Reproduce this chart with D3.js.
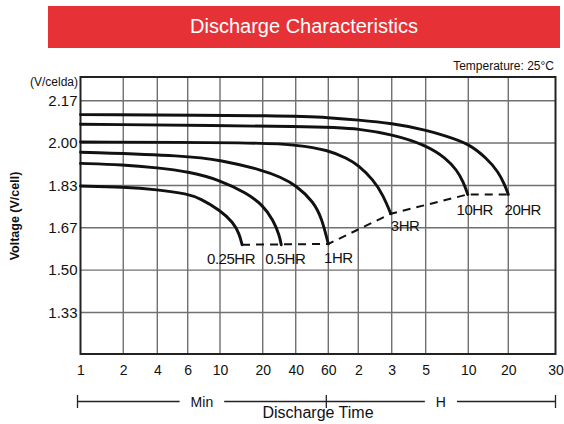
<!DOCTYPE html>
<html>
<head>
<meta charset="utf-8">
<script src="https://cdn.jsdelivr.net/npm/d3@7"></script>
<style>
  body { margin: 0; background: #fff; }
  text { font-family: "Liberation Sans", Arial, sans-serif; }
</style>
</head>
<body>
<script>
// Data (x = minutes, y = volts per cell)
var xTickMinutes = [1, 2, 4, 6, 10, 20, 40, 60, 120, 180, 300, 600, 1200, 1800];
var xTickLabels = ["1", "2", "4", "6", "10", "20", "40", "60", "2", "3", "5", "10", "20", "30"];
var yTickValues = [2.1667, 2.0, 1.8333, 1.6667, 1.5, 1.3333];
var yTickLabels = ["2.17", "2.00", "1.83", "1.67", "1.50", "1.33"];

var rateNames = ["0.25HR", "0.5HR", "1HR", "3HR", "10HR", "20HR"];
var curve025 = [[1, 1.831], [2, 1.827], [4, 1.817], [6, 1.80], [7.3, 1.782], [10, 1.736], [12.4, 1.688], [13.7, 1.642], [14.3, 1.60]];
var curve05 = [[1, 1.92], [2, 1.915], [4, 1.903], [6, 1.888], [10, 1.855], [15.5, 1.802], [20, 1.756], [25, 1.697], [28.5, 1.635], [29.5, 1.60]];
var curve1 = [[1, 1.964], [6, 1.95], [10, 1.933], [20, 1.894], [29, 1.866], [40, 1.835], [50, 1.769], [55.3, 1.704], [60, 1.603]];
var curve3 = [[1, 2.004], [20, 2.002], [40, 1.993], [60, 1.973], [92, 1.94], [120, 1.914], [144, 1.855], [162, 1.796], [178, 1.722]];
var curve10 = [[1, 2.074], [60, 2.065], [120, 2.056], [180, 2.035], [300, 1.993], [420, 1.94], [497, 1.894], [553, 1.848], [595, 1.798]];
var curve20 = [[1, 2.112], [40, 2.108], [60, 2.10], [120, 2.091], [180, 2.078], [300, 2.052], [420, 2.027], [600, 1.999], [826, 1.94], [1010, 1.887], [1130, 1.835], [1200, 1.798]];
var cutoffLine = [[14.3, 1.60], [60, 1.603], [178, 1.722], [595, 1.798], [1200, 1.798]];

var curves = [curve025, curve05, curve1, curve3, curve10, curve20];

// Settings
var w = 564;
var h = 424;
var pL = 80.5, pR = 555.5, pT = 77, pB = 354;

// the paper's hand drawn log axis: where each tick sits across the plot
var xStops = [0, 0.090, 0.1617, 0.2257, 0.2937, 0.3836, 0.4531, 0.5217, 0.5848, 0.6552, 0.7267, 0.8164, 0.9006, 1];

var xLin = d3.scaleLinear()
    .domain(xTickMinutes.map(function(m) { return Math.log10(m); }))
    .range(xStops.map(function(f) { return pL + f * (pR - pL); }));
var xScale = function(m) { return xLin(Math.log10(m)); };

var yScale = d3.scaleLinear()
    .domain([1.170, 2.260])
    .range([pB, pT]);

var svg = d3.select("body")
    .append("svg")
    .attr("width", w)
    .attr("height", h);

// Title banner
svg.append("rect")
    .attr("x", 48).attr("y", 6)
    .attr("width", 512).attr("height", 42)
    .attr("fill", "#e63237");
svg.append("text")
    .attr("x", 304).attr("y", 33)
    .attr("text-anchor", "middle")
    .attr("fill", "#fff")
    .style("font-size", "20px")
    .text("Discharge Characteristics");

svg.append("text")
    .attr("x", 554).attr("y", 70)
    .attr("text-anchor", "end")
    .style("font-size", "12px")
    .attr("fill", "#111")
    .text("Temperature: 25°C");

// Grid
svg.append("g")
    .selectAll("line")
    .data(xTickMinutes.slice(1, -1))
    .enter()
    .append("line")
    .attr("x1", function(d) { return xScale(d); })
    .attr("x2", function(d) { return xScale(d); })
    .attr("y1", pT).attr("y2", pB)
    .attr("stroke", "#707070").attr("stroke-width", 1.4);

svg.append("g")
    .selectAll("line")
    .data(yTickValues)
    .enter()
    .append("line")
    .attr("x1", pL).attr("x2", pR)
    .attr("y1", function(d) { return yScale(d); })
    .attr("y2", function(d) { return yScale(d); })
    .attr("stroke", "#707070").attr("stroke-width", 1.4);

svg.append("rect")
    .attr("x", pL).attr("y", pT)
    .attr("width", pR - pL).attr("height", pB - pT)
    .attr("fill", "none")
    .attr("stroke", "#222").attr("stroke-width", 2);

// Axes
var yAxis = d3.axisLeft(yScale)
    .tickValues(yTickValues)
    .tickSize(0)
    .tickPadding(3)
    .tickFormat(function(d, i) { return yTickLabels[i]; });
var gy = svg.append("g")
    .attr("transform", "translate(" + pL + ",0)")
    .call(yAxis);
gy.select(".domain").remove();
gy.selectAll("text").style("font-size", "15px").attr("font-family", null).attr("fill", "#111");

var xAxis = d3.axisBottom(d3.scaleIdentity())
    .tickValues(xTickMinutes.map(xScale))
    .tickSize(0)
    .tickPadding(11)
    .tickFormat(function(d, i) { return xTickLabels[i]; });
var gx = svg.append("g")
    .attr("transform", "translate(0," + pB + ")")
    .call(xAxis);
gx.select(".domain").remove();
gx.selectAll("text").style("font-size", "14px").attr("font-family", null).attr("fill", "#111");

svg.append("text")
    .attr("x", 78).attr("y", 86)
    .attr("text-anchor", "end")
    .style("font-size", "12px")
    .attr("fill", "#111")
    .text("(V/celda)");

svg.append("text")
    .attr("transform", "translate(19,216) rotate(-90)")
    .attr("text-anchor", "middle")
    .style("font-size", "12.5px")
    .style("font-weight", "bold")
    .attr("fill", "#111")
    .text("Voltage (V/cell)");

// Curves (smoothed through the read points)
var line = d3.line()
    .x(function(d) { return xScale(d[0]); })
    .y(function(d) { return yScale(d[1]); })
    .curve(d3.curveBasis);

svg.append("g")
    .selectAll("path")
    .data(curves)
    .enter()
    .append("path")
    .attr("d", line)
    .attr("fill", "none")
    .attr("stroke", "#111")
    .attr("stroke-width", 2.9)
    .attr("stroke-linecap", "round");

svg.append("path")
    .datum(cutoffLine)
    .attr("d", d3.line()
        .x(function(d) { return xScale(d[0]); })
        .y(function(d) { return yScale(d[1]); }))
    .attr("fill", "none")
    .attr("stroke", "#111")
    .attr("stroke-width", 2)
    .attr("stroke-dasharray", "8,6");

// Curve labels, placed from each curve's end point
var labelOffsets = [[-11, 19, "middle"], [4, 19, "middle"], [10, 19, "middle"], [0, 17, "start"], [7, 21, "middle"], [14.5, 21, "middle"]];
svg.append("g")
    .selectAll("text")
    .data(curves)
    .enter()
    .append("text")
    .attr("x", function(d, i) { return xScale(d[d.length - 1][0]) + labelOffsets[i][0]; })
    .attr("y", function(d, i) { return yScale(d[d.length - 1][1]) + labelOffsets[i][1]; })
    .attr("text-anchor", function(d, i) { return labelOffsets[i][2]; })
    .style("font-size", "15px")
    .style("letter-spacing", "-0.5px")
    .attr("fill", "#111")
    .text(function(d, i) { return rateNames[i]; });

// Min / H bracket under the axis
var by = 401.5;
var bracket = svg.append("g").attr("stroke", "#222").attr("stroke-width", 1.3);
var spans = [[xScale(1) - 3, xScale(60) - 2, "Min"], [xScale(60) - 2, xScale(1800), "H"]];
spans.forEach(function(s) {
    var t = svg.append("text")
        .attr("x", (s[0] + s[1]) / 2).attr("y", by + 5)
        .attr("text-anchor", "middle")
        .style("font-size", "14px")
        .attr("fill", "#111")
        .text(s[2]);
    var bb = t.node().getBBox();
    bracket.append("line").attr("x1", s[0]).attr("x2", bb.x - 11).attr("y1", by).attr("y2", by);
    bracket.append("line").attr("x1", bb.x + bb.width + 11).attr("x2", s[1]).attr("y1", by).attr("y2", by);
});
[xScale(1) - 3, xScale(60) - 2, xScale(1800)].forEach(function(x) {
    bracket.append("line").attr("x1", x).attr("x2", x).attr("y1", by - 6.5).attr("y2", by + 6.5);
});

svg.append("text")
    .attr("x", (pL + pR) / 2).attr("y", 418)
    .attr("text-anchor", "middle")
    .style("font-size", "16px")
    .attr("fill", "#111")
    .text("Discharge Time");
</script>
</body>
</html>
